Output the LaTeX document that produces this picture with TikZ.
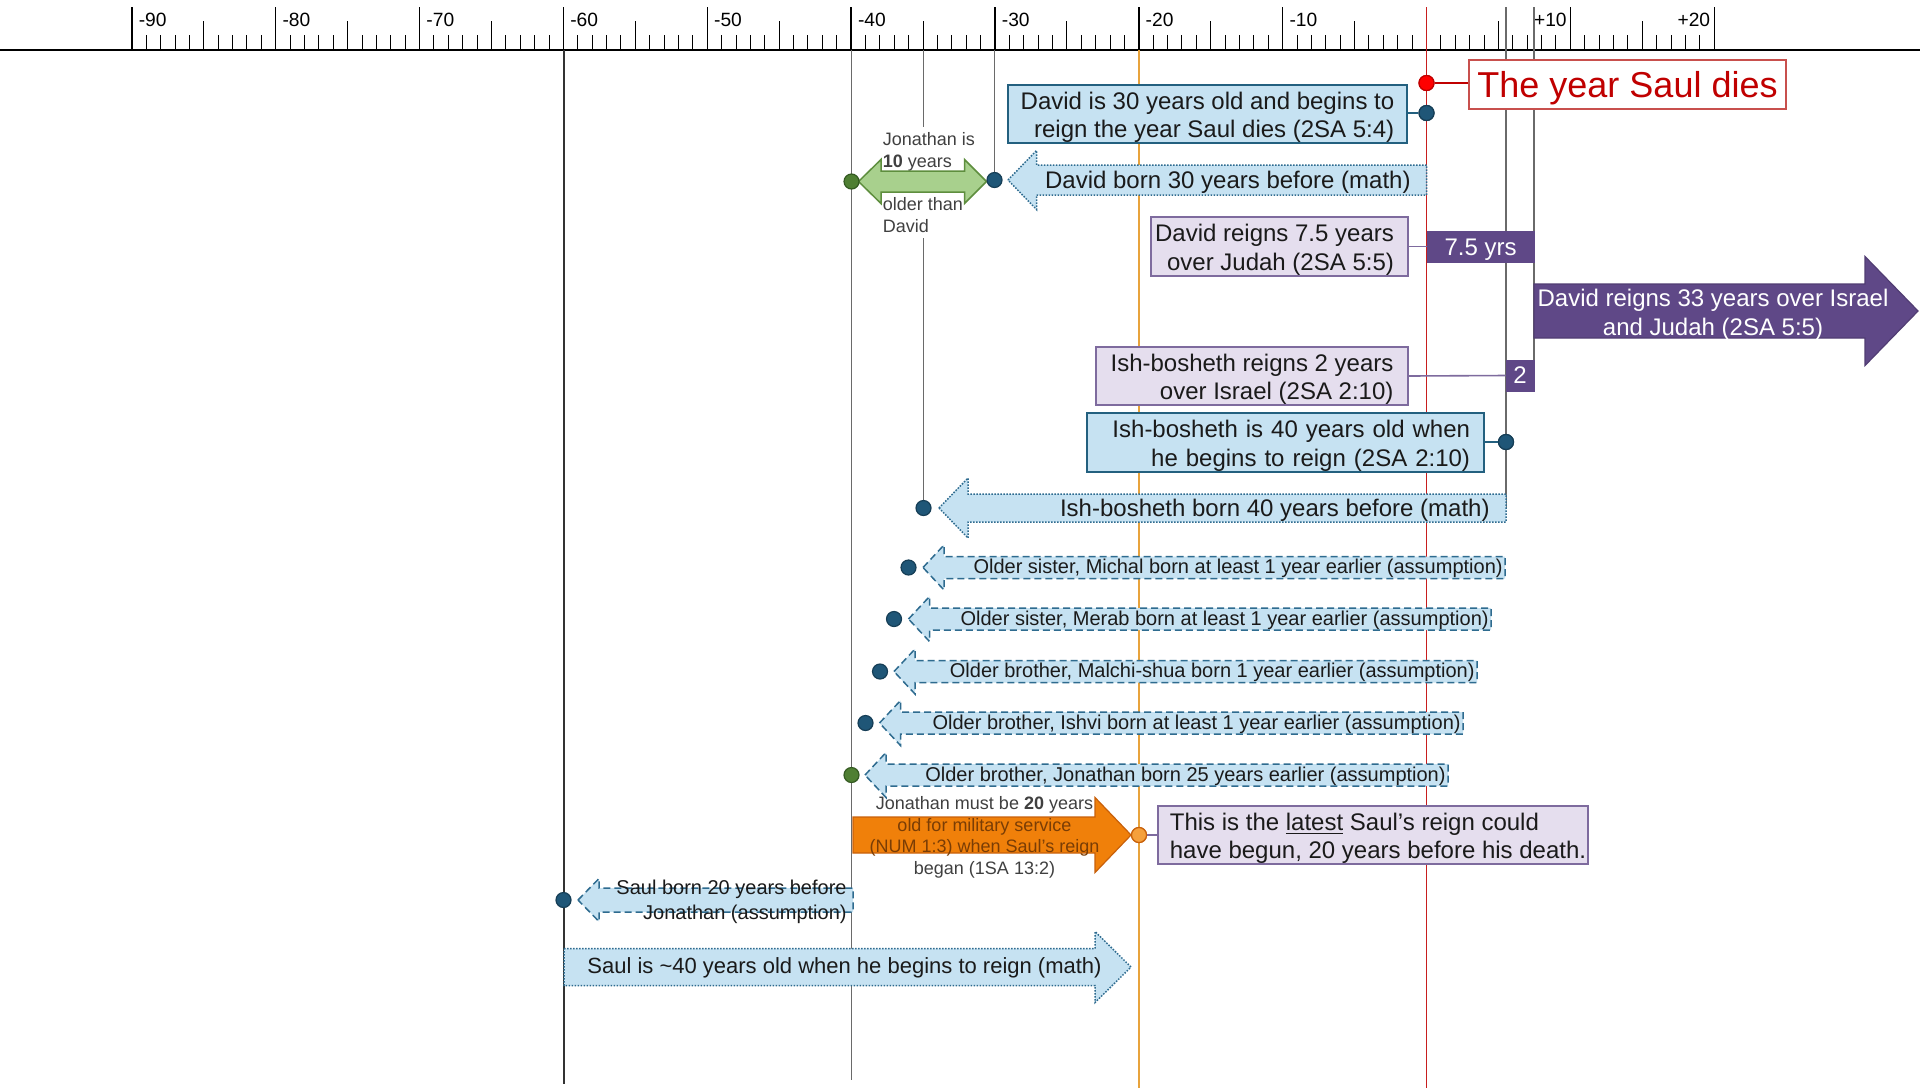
\documentclass[tikz,border=0pt]{standalone}
\usepackage{fontspec}
\setmainfont{Liberation Sans}
\definecolor{lblue}{HTML}{C6E2F2}
\definecolor{bborder}{HTML}{23607F}
\definecolor{arrborder}{HTML}{2E6B8F}
\definecolor{dotblue}{HTML}{1F5677}
\definecolor{dotborder}{HTML}{163E56}
\definecolor{lav}{HTML}{E5DEEE}
\definecolor{lavborder}{HTML}{7E6B9E}
\definecolor{dpurple}{HTML}{5F4887}
\definecolor{gfill}{HTML}{A8D08D}
\definecolor{gborder}{HTML}{5E8E3E}
\definecolor{gdot}{HTML}{4F7F33}
\definecolor{gdotborder}{HTML}{345A22}
\definecolor{ofill}{HTML}{F0800A}
\definecolor{oborder}{HTML}{C8600A}
\definecolor{odot}{HTML}{F5A03C}
\definecolor{obrown}{HTML}{7A3D05}
\definecolor{redline}{HTML}{C81E1E}
\definecolor{redtext}{HTML}{C00000}
\definecolor{redborder}{HTML}{C8504D}
\definecolor{oline}{HTML}{E8A33C}
\definecolor{gline}{HTML}{6A6A6A}
\definecolor{tgray}{HTML}{404040}
\definecolor{tdark}{HTML}{1A1A1A}
\newcommand\fMain{\fontsize{12}{14.3}\selectfont}
\newcommand\fBig{\fontsize{18}{21}\selectfont}
\newcommand\fSmall{\fontsize{10}{12.5}\selectfont}
\newcommand\fTiny{\fontsize{9}{10.85}\selectfont}
\newcommand\fTick{\fontsize{9.6}{11}\selectfont}
\newcommand\fSaul{\fontsize{11}{13}\selectfont}
\newcommand\tlup{\rule{0pt}{11.8pt}}
\newcommand\tlbigup{\rule{0pt}{16.8pt}}
% left-pointing block arrow: tip x, right x, centre y, shaft half, head half, head length, style
\newcommand{\tlLeftArrow}[7]{%
  \path[#7] (#1,#3) -- ({#1+#6},{#3-#5}) -- ({#1+#6},{#3-#4}) -- (#2,{#3-#4})
    -- (#2,{#3+#4}) -- ({#1+#6},{#3+#4}) -- ({#1+#6},{#3+#5}) -- cycle;}
% right-pointing block arrow: left x, tip x, centre y, shaft half, head half, head length, style
\newcommand{\tlRightArrow}[7]{%
  \path[#7] (#1,{#3-#4}) -- ({#2-#6},{#3-#4}) -- ({#2-#6},{#3-#5}) -- (#2,#3)
    -- ({#2-#6},{#3+#5}) -- ({#2-#6},{#3+#4}) -- (#1,{#3+#4}) -- cycle;}
\tikzset{
  minortick/.style={line width=0.5pt},
  majortick/.style={line width=0.7pt},
  vline/.style={line width=0.7pt},
  bluebox/.style={draw=bborder, fill=lblue, line width=0.8pt, inner sep=0pt, align=right, font=\fMain, text=tdark},
  lavbox/.style={draw=lavborder, fill=lav, line width=0.8pt, inner sep=0pt, align=right, font=\fMain, text=tdark},
  purplebar/.style={fill=dpurple, draw=dpurple, text=white, inner sep=0pt, font=\fMain},
  tldot/.style={circle, minimum size=7.5pt, inner sep=0pt, line width=0.6pt},
  bluedot/.style={tldot, fill=dotblue, draw=dotborder},
  greendot/.style={tldot, fill=gdot, draw=gdotborder},
  dashedarrow/.style={fill=lblue, draw=arrborder, line width=0.75pt, dash pattern=on 3.5pt off 2pt},
  dottedarrow/.style={fill=lblue, draw=arrborder, line width=0.75pt, dash pattern=on 0.75pt off 0.75pt},
  conn/.style={line width=0.8pt},
  arrtext/.style={inner sep=0pt, text=tdark},
}
\newcommand{\tlAssume}[5]{%
  \tlLeftArrow{#2}{#3}{#4}{11}{22.5}{21}{dashedarrow}
  \node[arrtext, anchor=east, font=\fSmall] (#1) at ({#3-2},{#4+1}) {#5};}
\begin{document}
\begin{tikzpicture}[x=0.5pt, y=-0.5pt]
\useasboundingbox (0,0) rectangle (1920,1088);
\fill[white] (0,0) rectangle (1920,1088);
% ---- axis ----
\draw[line width=0.75pt] (0,50) -- (1920,50);
\foreach \i in {-90,...,20}{
  \pgfmathsetmacro\xx{1426.5+14.385*\i}
  \pgfmathtruncatemacro\mt{mod(abs(\i),10)}
  \pgfmathtruncatemacro\mf{mod(abs(\i),5)}
  \ifnum\mt=0
    \draw[majortick] (\xx,7) -- (\xx,50);
  \else\ifnum\mf=0
    \draw[minortick] (\xx,21) -- (\xx,50);
  \else
    \draw[minortick] (\xx,35) -- (\xx,50);
  \fi\fi
}
\foreach \v in {-90,-80,-70,-60,-50,-40,-30,-20,-10}{
  \pgfmathsetmacro\xx{1426.5+14.385*\v+6.5}
  \node[anchor=base west, inner sep=0pt, font=\fTick] (lab\v) at (\xx,26.5) {\v};
}
\node[anchor=base east, inner sep=0pt, font=\fTick] (labp10) at (1567,26.5) {+10};
\node[anchor=base east, inner sep=0pt, font=\fTick] (labp20) at (1710.5,26.5) {+20};
% ---- vertical year lines ----
\draw[line width=0.55pt, draw=black!80] (564,50) -- (564,1084);
\draw[vline, draw=gline] (851.5,50) -- (851.5,1080);
\draw[vline, draw=gline] (923.5,50) -- (923.5,508);
\draw[vline, draw=gline] (994.5,50) -- (994.5,180);
\draw[vline, draw=oline] (1139,50) -- (1139,1088);
\draw[vline, draw=redline] (1426.5,7) -- (1426.5,1088);
\draw[vline, draw=gline] (1506,7) -- (1506,508);
\draw[vline, draw=gline] (1534,7) -- (1534,391);
% ---- Jonathan 10 years older ----
\node[anchor=west, align=left, fill=white, inner xsep=1pt, inner ysep=2.75pt, font=\fTiny, text=tgray]
  (tJon10) at (880.5,182.6) {Jonathan is\\\textbf{10} years\\\mbox{}\\older than\\David};
\path[fill=gfill, draw=gborder, line width=0.75pt]
  (858.5,181.5) -- (881,159.5) -- (881,171) -- (964.5,171) -- (964.5,159.5) -- (986.5,181.5)
  -- (964.5,203.5) -- (964.5,192) -- (881,192) -- (881,203.5) -- cycle;
% ---- block arrows ----
\tlLeftArrow{1008}{1426.5}{180}{15}{29.5}{28.5}{dottedarrow}
\node[arrtext, anchor=east, font=\fMain] (tDavBorn) at (1411,182.5) {David born 30 years before (math)};
\tlRightArrow{1534}{1918}{311}{27}{54.5}{53}{fill=dpurple, draw=dpurple!85!black, line width=0.6pt}
\node[inner sep=0pt, align=center, font=\fMain, text=white] (tDav33) at (1713,315)
  {David reigns 33 years over Israel\\and Judah (2SA 5:5)};
\tlLeftArrow{939}{1506}{508}{14}{30}{29}{dottedarrow}
\node[arrtext, anchor=east, font=\fMain] (tIshBorn) at (1490,510.5) {Ish-bosheth born 40 years before (math)};
\tlAssume{tMichal}{923}{1505}{567.5}{Older sister, Michal born at least 1 year earlier (assumption)}
\tlAssume{tMerab}{908.5}{1491}{619}{Older sister, Merab born at least 1 year earlier (assumption)}
\tlAssume{tMalchi}{894}{1477}{671.5}{Older brother, Malchi-shua born 1 year earlier (assumption)}
\tlAssume{tIshvi}{879.5}{1463}{723}{Older brother, Ishvi born at least 1 year earlier (assumption)}
\tlAssume{tJonBorn}{865}{1448}{775}{Older brother, Jonathan born 25 years earlier (assumption)}
\tlRightArrow{853}{1131}{835}{18}{37.5}{36}{fill=ofill, draw=oborder, line width=0.6pt}
\node[inner sep=0pt, align=center, font=\fTiny, text=tgray] (tOrange) at (984.5,837.3)
  {Jonathan must be \textbf{20} years\\\textcolor{obrown}{old for military service}\\
   \textcolor{obrown}{(NUM 1:3) when Saul’s reign}\\began (1SA 13:2)};
\tlLeftArrow{578}{853}{900}{12}{21.5}{21}{dashedarrow}
\node[arrtext, anchor=east, align=right, font=\fSmall] (tSaulBorn) at (847,901.5)
  {Saul born 20 years before\\Jonathan (assumption)};
\tlRightArrow{564}{1131}{967}{18.5}{35.5}{36}{dottedarrow}
\node[arrtext, anchor=west, font=\fSaul] (tSaul40) at (587,968)
  {Saul is \textasciitilde40 years old when he begins to reign (math)};
% ---- boxes ----
\node[draw=redborder, fill=white, line width=0.8pt, inner sep=0pt, minimum width=158.5pt,
  minimum height=24.5pt, font=\fBig, text=redtext] (bSaulDies) at (1627.5,84.5) {\tlbigup The year Saul dies};
\node[bluebox, minimum width=199.5pt, minimum height=29pt] (bDav30) at (1207.5,114)
  {\tlup David is 30 years old and begins to\\reign the year Saul dies (2SA 5:4)};
\node[lavbox, minimum width=128.5pt, minimum height=29.5pt] (bDav75) at (1279.5,246.5)
  {\tlup David reigns 7.5 years\hspace*{5pt}\\over Judah (2SA 5:5)\hspace*{5pt}};
\node[purplebar, minimum width=53.5pt, minimum height=15.5pt] (bar75) at (1480.5,246.5) {\tlup 7.5 yrs};
\node[lavbox, minimum width=156pt, minimum height=29pt] (bIsh2) at (1252,376)
  {\tlup Ish-bosheth reigns 2 years\\over Israel (2SA 2:10)};
\node[purplebar, minimum width=14pt, minimum height=15.5pt] (box2) at (1520,375.5) {2};
\node[bluebox, text width=184.5pt, inner xsep=7pt, minimum height=29.5pt] (bIsh40) at (1285.5,442.5)
  {\tlup Ish-bosheth is 40 years old when\\he begins to reign (2SA 2:10)};
\node[lavbox, align=left, minimum width=215pt, minimum height=29pt] (bLatest) at (1373,835)
  {\hspace*{5pt}\tlup This is the \underline{latest} Saul’s reign could\\\hspace*{5pt}have begun, 20 years before his death.};
% ---- dots ----
\node[tldot, fill=red, draw=redtext] (dSaulDie) at (1426.5,83) {};
\node[bluedot] (dDav30) at (1426.5,113) {};
\node[bluedot] (dDavBorn) at (994.5,180) {};
\node[greendot] (dJon10) at (851.5,181.5) {};
\node[bluedot] (dIsh40) at (1506,442) {};
\node[bluedot] (dIshBorn) at (923.5,508) {};
\node[bluedot] (dMichal) at (908.5,567.5) {};
\node[bluedot] (dMerab) at (894,619) {};
\node[bluedot] (dMalchi) at (880,671.5) {};
\node[bluedot] (dIshvi) at (865.5,723) {};
\node[greendot] (dJonBorn) at (851.5,775) {};
\node[tldot, fill=odot, draw=oborder] (dOrange) at (1139,835) {};
\node[bluedot] (dSaulBorn) at (563.5,900) {};
% ---- connectors ----
\draw[conn, draw=redtext] (dSaulDie) -- (dSaulDie -| bSaulDies.west);
\draw[conn, draw=bborder] (dDav30 -| bDav30.east) -- (dDav30);
\draw[conn, draw=lavborder] (bDav75.east) -- (bar75.west);
\draw[conn, draw=lavborder] (bIsh2.east) -- (box2.west);
\draw[conn, draw=bborder] (dIsh40 -| bIsh40.east) -- (dIsh40);
\draw[conn, draw=lavborder] (dOrange) -- (dOrange -| bLatest.west);
\node[tldot, fill=red, draw=redtext] at (dSaulDie) {};
\node[bluedot] at (dDav30) {};
\node[bluedot] at (dIsh40) {};
\node[tldot, fill=odot, draw=oborder] at (dOrange) {};
\end{tikzpicture}
\end{document}
